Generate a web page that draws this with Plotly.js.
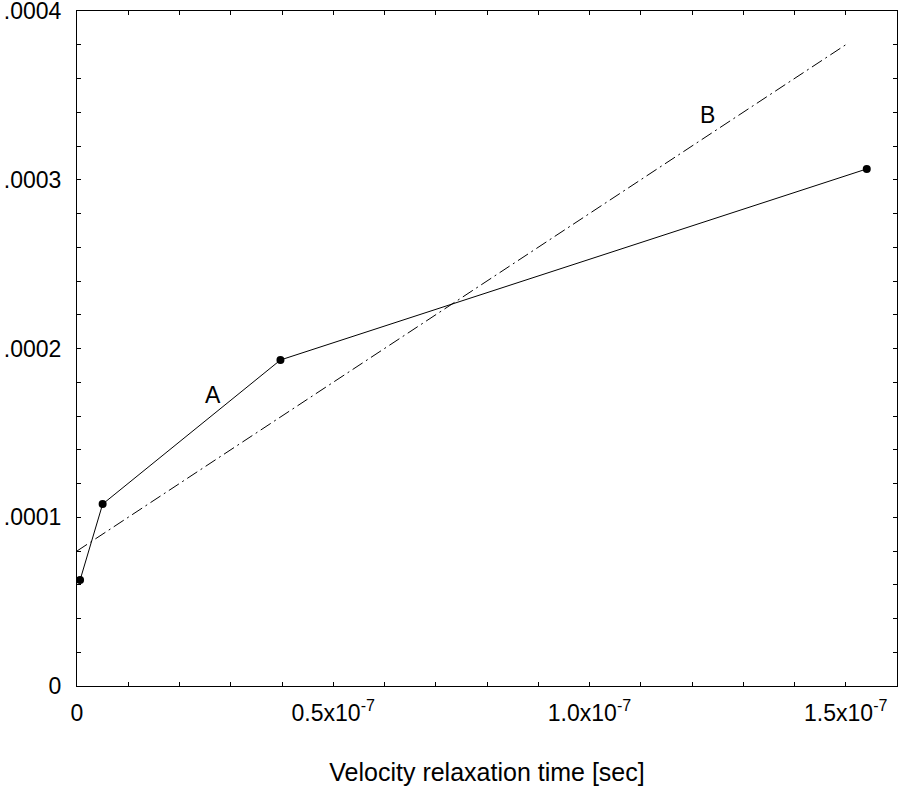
<!DOCTYPE html>
<html>
<head>
<meta charset="utf-8">
<script src="https://cdn.plot.ly/plotly-3.0.1.min.js"></script>
<style>html,body{margin:0;padding:0;background:#fff;}#chart{width:904px;height:788px;}</style>
</head>
<body>
<div id="chart"></div>
<script>
// Series A (measured points, solid line with markers)
const seriesA_x = [0.006e-7, 0.05e-7, 0.397e-7, 1.541e-7];
const seriesA_y = [0.628e-4, 1.078e-4, 1.932e-4, 3.064e-4];
// Series B (dash-dot straight line)
const seriesB_x = [0, 1.5e-7];
const seriesB_y = [0.80e-4, 3.80e-4];
// Labels
const labelNames = ["A", "B"];
const label_x = [0.265e-7, 1.23e-7];
const label_y = [1.724e-4, 3.384e-4];
// Tick values and labels
const xTickVals = [0, 0.1e-7, 0.2e-7, 0.3e-7, 0.4e-7, 0.5e-7, 0.6e-7, 0.7e-7, 0.8e-7, 0.9e-7, 1.0e-7, 1.1e-7, 1.2e-7, 1.3e-7, 1.4e-7, 1.5e-7];
const xTickText = ["0", "", "", "", "", "0.5x10<sup>-7</sup>", "", "", "", "", "1.0x10<sup>-7</sup>", "", "", "", "", "1.5x10<sup>-7</sup>"];
const yTickVals = [0, 0.2e-4, 0.4e-4, 0.6e-4, 0.8e-4, 1.0e-4, 1.2e-4, 1.4e-4, 1.6e-4, 1.8e-4, 2.0e-4, 2.2e-4, 2.4e-4, 2.6e-4, 2.8e-4, 3.0e-4, 3.2e-4, 3.4e-4, 3.6e-4, 3.8e-4, 4.0e-4];
const yTickText = ["0", "", "", "", "", ".0001", "", "", "", "", ".0002", "", "", "", "", ".0003", "", "", "", "", ".0004"];
const xTitle = "Velocity relaxation time [sec]";

const FONT = "Liberation Sans, Arial, sans-serif";

const traces = [
  {
    x: seriesA_x, y: seriesA_y, type: "scatter", mode: "lines+markers",
    line: {color: "#000", width: 1},
    marker: {color: "#000", size: 8, symbol: "circle"},
    showlegend: false, hoverinfo: "skip", cliponaxis: false
  },
  {
    x: seriesB_x, y: seriesB_y, type: "scatter", mode: "lines",
    line: {color: "#000", width: 1, dash: "12px,4px,2px,4px"},
    showlegend: false, hoverinfo: "skip"
  }
];

const annotations = labelNames.map((t, i) => ({
  x: label_x[i], y: label_y[i], xref: "x", yref: "y", text: t, showarrow: false,
  font: {family: FONT, size: 23, color: "#000"}
}));

const axisCommon = {
  showline: true, linecolor: "#000", linewidth: 1, mirror: "allticks",
  ticks: "inside", ticklen: 4, tickwidth: 1, tickcolor: "#000",
  showgrid: false, zeroline: false, tickmode: "array",
  tickfont: {family: FONT, size: 23, color: "#000"}
};

const layout = {
  width: 904, height: 788,
  margin: {l: 77, r: 7, t: 11, b: 102},
  paper_bgcolor: "#fff", plot_bgcolor: "#fff",
  font: {family: FONT, color: "#000"},
  xaxis: Object.assign({}, axisCommon, {
    range: [0, 1.6e-7], tickvals: xTickVals, ticktext: xTickText,
    ticklabelstandoff: 6,
    title: {text: xTitle, font: {family: FONT, size: 25, color: "#000"}, standoff: 38}
  }),
  yaxis: Object.assign({}, axisCommon, {
    range: [0, 4.00001e-4], tickvals: yTickVals, ticktext: yTickText,
    ticklabelstandoff: 10, ticklabeloverflow: "allow"
  }),
  annotations: annotations
};

Plotly.newPlot("chart", traces, layout, {staticPlot: true, displayModeBar: false});
</script>
</body>
</html>
